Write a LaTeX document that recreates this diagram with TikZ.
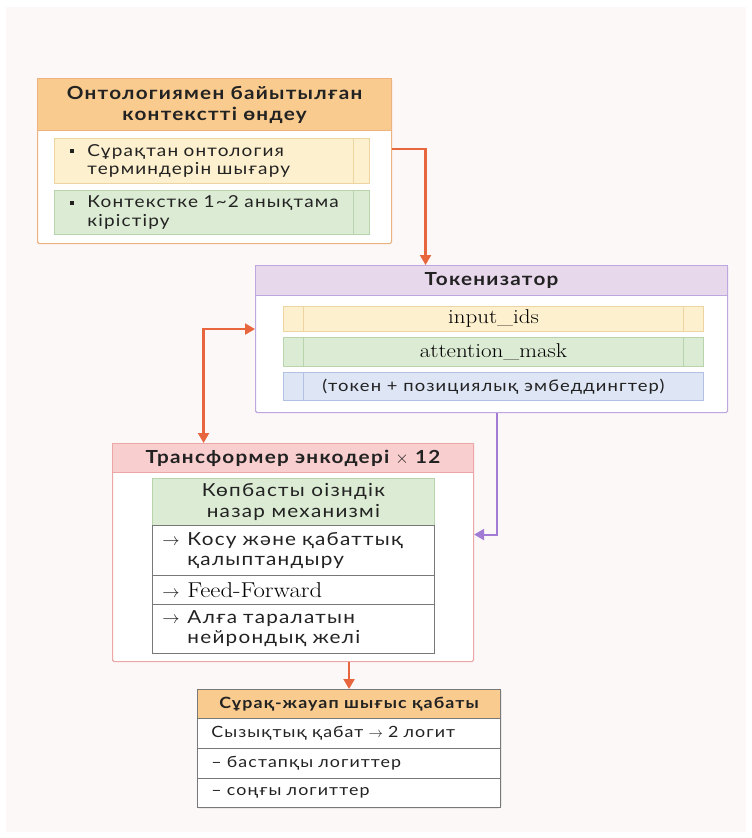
\documentclass[tikz,border=0pt]{standalone}
\usepackage{fontspec}
\setsansfont{Lato}[FakeStretch=1.15, LetterSpace=7]
\newfontfamily\serifwide{Latin Modern Roman}[FakeStretch=1.15]
\usetikzlibrary{arrows.meta,positioning}

\definecolor{pagebg}{RGB}{252,248,248}
\definecolor{orangehead}{RGB}{249,203,143}
\definecolor{orangeline}{RGB}{236,178,128}
\definecolor{yellowfill}{RGB}{253,240,206}
\definecolor{yellowline}{RGB}{238,212,160}
\definecolor{greenfill}{RGB}{220,235,211}
\definecolor{greenline}{RGB}{184,212,172}
\definecolor{bluefill}{RGB}{222,230,246}
\definecolor{blueline}{RGB}{178,192,228}
\definecolor{purplehead}{RGB}{232,216,236}
\definecolor{purpleline}{RGB}{190,166,222}
\definecolor{pinkhead}{RGB}{249,206,206}
\definecolor{pinkline}{RGB}{236,166,166}
\definecolor{grayline}{RGB}{120,120,120}
\definecolor{textgray}{RGB}{34,34,34}
\definecolor{arroworange}{RGB}{232,102,62}
\definecolor{arrowpurple}{RGB}{162,124,212}

\newcommand{\bul}{\rule[3pt]{4pt}{4pt}}
\newcommand{\arr}{$\rightarrow$}

\begin{document}
\begin{tikzpicture}[x=1pt,y=1pt,yscale=-1,
  frame/.style={draw, line width=1.1pt, fill=white, anchor=north west, inner sep=0pt, rounded corners=1.5pt},
  head/.style={draw, line width=1.1pt, anchor=north west, inner sep=0pt, align=center, text=textgray,
    font=\sffamily\bfseries\fontsize{18}{21}\selectfont},
  item/.style={draw, line width=0.9pt, anchor=north west, inner sep=0pt, align=left, text=textgray,
    font=\sffamily\fontsize{16.5}{18.5}\selectfont},
  field/.style={draw, line width=0.9pt, anchor=north west, inner sep=0pt, align=center, text=textgray},
  row/.style={draw=grayline, line width=0.9pt, fill=white, anchor=north west, inner ysep=0pt, align=left,
    text=textgray, font=\sffamily\fontsize{18}{20}\selectfont},
  flow/.style={draw=arroworange, line width=2.2pt, -{Triangle[width=11pt,length=10pt]}},
]
% page
\path[fill=white] (0,0) rectangle (752,838);
\path[fill=pagebg] (6,7) rectangle (746,832);

% ontology context block
\node[frame, draw=orangeline, minimum width=354pt, minimum height=165pt] (onto) at (37,78) {};
\node[head, fill=orangehead, draw=orangeline, minimum width=354pt, minimum height=52pt] (ontohead) at (37,78)
  {Онтологиямен байытылған\\контекстті өндеу};
\node[item, fill=yellowfill, draw=yellowline, minimum width=315pt, minimum height=45pt, text width=315pt] (terms) at (54,138)
  {\hspace*{16pt}\makebox[17pt][l]{\bul}Сұрақтан онтология\\\hspace*{33pt}терминдерін шығару};
\draw[yellowline, line width=0.9pt] ([xshift=-16pt]terms.north east) -- ([xshift=-16pt]terms.south east);
\node[item, fill=greenfill, draw=greenline, minimum width=315pt, minimum height=44pt, text width=315pt] (defs) at (54,190)
  {\hspace*{16pt}\makebox[17pt][l]{\bul}Контекстке 1\textasciitilde2 анықтама\\\hspace*{33pt}кірістіру};
\draw[greenline, line width=0.9pt] ([xshift=-16pt]defs.north east) -- ([xshift=-16pt]defs.south east);

% tokenizer block
\node[frame, draw=purpleline, minimum width=472pt, minimum height=147pt] (tok) at (255,265) {};
\node[head, fill=purplehead, draw=purpleline, minimum width=472pt, minimum height=30pt] (tokhead) at (255,265)
  {Токенизатор};
\node[field, fill=yellowfill, draw=yellowline, minimum width=420pt, minimum height=25pt, text=black,
  font=\serifwide\fontsize{20}{22}\selectfont] (ids) at (283,306) {input\_ids};
\node[field, fill=greenfill, draw=greenline, minimum width=420pt, minimum height=29pt, text=black,
  font=\serifwide\fontsize{20}{22}\selectfont] (mask) at (283,337) {attention\_mask};
\node[field, fill=bluefill, draw=blueline, minimum width=420pt, minimum height=28pt,
  font=\sffamily\fontsize{16}{18}\selectfont] (emb) at (283,372) {(токен + позициялық эмбеддингтер)};
\foreach \f/\c in {ids/yellowline, mask/greenline, emb/blueline}
  \draw[\c, line width=0.9pt] ([xshift=20pt]\f.north west) -- ([xshift=20pt]\f.south west);
\foreach \f/\c in {ids/yellowline, mask/greenline}
  \draw[\c, line width=0.9pt] ([xshift=-20pt]\f.north east) -- ([xshift=-20pt]\f.south east);

% transformer encoder block
\node[frame, draw=pinkline, minimum width=361pt, minimum height=218pt] (enc) at (112,443) {};
\node[head, fill=pinkhead, draw=pinkline, minimum width=361pt, minimum height=29pt] (enchead) at (112,443)
  {Трансформер энкодері $\times$ 12};
\node[field, fill=greenfill, draw=greenline, minimum width=282pt, minimum height=47pt,
  font=\sffamily\fontsize{18}{21}\selectfont] (attn) at (152,478)
  {Көпбасты оізндік\\назар механизмі};
\node[row, minimum width=282pt, minimum height=50pt, text width=262pt, inner xsep=10pt] (norm) at (152,525)
  {\makebox[25pt][l]{\arr}Косу және қабаттық\\\hspace*{25pt}қалыптандыру};
\node[row, minimum width=282pt, minimum height=29pt, text width=262pt, inner xsep=10pt] (ff) at (152,575)
  {\makebox[25pt][l]{\arr}{\color{black}\serifwide\fontsize{21.5}{22}\selectfont Feed-Forward}};
\node[row, minimum width=282pt, minimum height=49pt, text width=262pt, inner xsep=10pt] (mlp) at (152,604)
  {\makebox[25pt][l]{\arr}Алға таралатын\\\hspace*{25pt}нейрондық желі};

% output block
\node[frame, draw=grayline, minimum width=303pt, minimum height=118pt] (out) at (197,689) {};
\node[head, fill=orangehead, draw=grayline, minimum width=303pt, minimum height=29pt,
  font=\sffamily\bfseries\fontsize{15.5}{19}\selectfont] (outhead) at (197,689) {Сұрақ-жауап шығыс қабаты};
\node[row, minimum width=303pt, minimum height=30pt, text width=275pt, inner xsep=14pt,
  font=\sffamily\fontsize{15.5}{18}\selectfont] (lin) at (197,718) {Сызықтық қабат \arr\ 2 логит};
\node[row, minimum width=303pt, minimum height=30pt, text width=275pt, inner xsep=14pt,
  font=\sffamily\fontsize{15.5}{18}\selectfont] (start) at (197,748) {-- бастапқы логиттер};
\node[row, minimum width=303pt, minimum height=29pt, text width=275pt, inner xsep=14pt,
  font=\sffamily\fontsize{15.5}{18}\selectfont] (end) at (197,778) {-- соңғы логиттер};

% connectors
\draw[flow] ([yshift=-12pt]onto.east) -| ([xshift=-66pt]tok.north);
\draw[flow, {Triangle[width=11pt,length=10pt]}-{Triangle[width=11pt,length=10pt]}]
  ([yshift=-10pt]tok.west) -| ([xshift=-89.5pt]enc.north);
\draw[draw=arrowpurple, line width=2pt, -{Triangle[width=11pt,length=10pt]}]
  ([xshift=5pt]tok.south) |- ([yshift=-18pt]enc.east);
\draw[flow] (enc.south -| out.north) -- (out.north);
\end{tikzpicture}
\end{document}
